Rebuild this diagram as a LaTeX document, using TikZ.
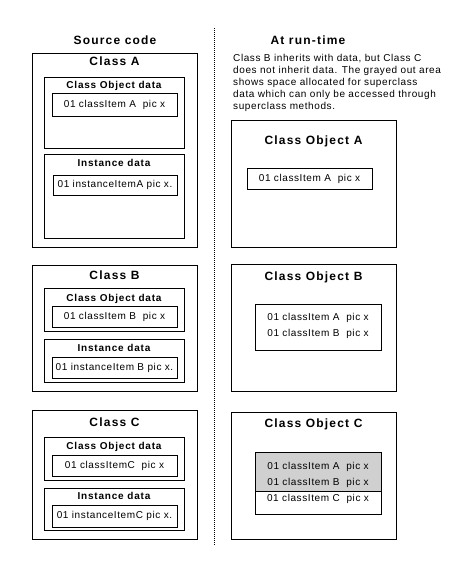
\documentclass[tikz,border=0pt]{standalone}
\usepackage{fontspec}
\setmainfont{Liberation Sans}[LetterSpace=6]
\newfontfamily\headfont{Liberation Sans}[LetterSpace=10]
\newfontfamily\subfont{Liberation Sans}[LetterSpace=8]
\definecolor{grayout}{RGB}{208,208,208}
\newcommand\bx[7][]{\node[box,#1,minimum width={#5-#3},minimum height={#6-#4}] (#2) at (#3,#4) {#7};}
\begin{document}
\begin{tikzpicture}[x=1pt,y=-1pt,
  box/.style={draw, line width=1pt, inner sep=0pt, outer sep=0pt, anchor=north west, fill=white,
              font=\fontsize{10}{12}\selectfont},
  head/.style={font=\headfont\bfseries\fontsize{12}{14}\selectfont, inner sep=0pt, anchor=base},
  sub/.style={font=\subfont\bfseries\fontsize{10}{12}\selectfont, inner sep=0pt, anchor=base},
  txt/.style={font=\fontsize{10}{12}\selectfont, inner sep=0pt, anchor=base},
  para/.style={font=\fontsize{10}{12}\selectfont, inner sep=0pt, anchor=base west},
  divider/.style={line width=1pt, dash pattern=on 1pt off 1pt}]
\useasboundingbox (0,0) rectangle (475,565);

% headings
\node[head] (srchead) at (115,44.3) {Source code};
\node[head] (runhead) at (308,44.3) {At run-time};

% explanation
\node[para] (p1) at (233,61.5) {Class B inherits with data, but Class C};
\node[para] (p2) at (233,73.5) {does not inherit data. The grayed out area};
\node[para] (p3) at (233,85.5) {shows space allocated for superclass};
\node[para] (p4) at (233,97.5) {data which can only be accessed through};
\node[para] (p5) at (233,109.5) {superclass methods.};

% divider
\coordinate (dtop) at (214,28);
\coordinate (dbot) at (214,545);
\draw[divider] (dtop) -- (dbot);

% ---------- Class A ----------
\bx{classA}{32}{53}{197}{247}{}
\node[head] (classAt) at (114.5,65.3) {Class A};
\bx{codA}{44}{77}{184}{148}{}
\node[sub] (codAt) at (114,88.6) {Class Object data};
\bx{itemA}{52}{93}{177}{116}{01 classItem A\ \ pic x}
\bx{instA}{44}{154}{184}{238}{}
\node[sub] (instAt) at (114,166.6) {Instance data};
\bx{iitemA}{53}{175}{177}{195}{01 instanceItemA pic x.}

% ---------- Class B ----------
\bx{classB}{32}{265}{197}{391}{}
\node[head] (classBt) at (114.5,279.3) {Class B};
\bx{codB}{44}{288}{184}{331}{}
\node[sub] (codBt) at (114,301.6) {Class Object data};
\bx{itemB}{52}{306}{177}{327}{01 classItem B\ \ pic x}
\bx{instB}{44}{339}{184}{382}{}
\node[sub] (instBt) at (114,351.6) {Instance data};
\bx{iitemB}{52}{357}{177}{378}{01 instanceItem B pic x.}

% ---------- Class C ----------
\bx{classC}{32}{410}{197}{539}{}
\node[head] (classCt) at (114.5,426.3) {Class C};
\bx{codC}{44}{437}{184}{480}{}
\node[sub] (codCt) at (114,449.6) {Class Object data};
\bx{itemC}{52}{455}{177}{476}{01 classItemC\ \ pic x}
\bx{instC}{44}{488}{184}{530}{}
\node[sub] (instCt) at (114,499.6) {Instance data};
\bx{iitemC}{52}{505}{177}{527}{01 instanceItemC pic x.}

% ---------- Class Object A ----------
\bx{objA}{231}{120}{396}{247}{}
\node[head] (objAt) at (313.5,144.3) {Class Object A};
\bx{oitemA}{247}{168}{372}{189}{01 classItem A\ \ pic x}

% ---------- Class Object B ----------
\bx{objB}{231}{264}{396}{391}{}
\node[head] (objBt) at (313.5,280.3) {Class Object B};
\bx{oitemB}{255}{304}{381}{350}{}
\node[txt] (oB1) at (318,320.6) {01 classItem A\ \ pic x};
\node[txt] (oB2) at (318,336.6) {01 classItem B\ \ pic x};

% ---------- Class Object C ----------
\bx{objC}{231}{412}{396}{539}{}
\node[head] (objCt) at (313.5,427.3) {Class Object C};
\bx{oitemC}{255}{452}{381}{514}{}
\bx[fill=grayout]{grayC}{255}{452}{381}{491}{}
\node[txt] (oC1) at (318,469.6) {01 classItem A\ \ pic x};
\node[txt] (oC2) at (318,485.6) {01 classItem B\ \ pic x};
\node[txt] (oC3) at (318,501.6) {01 classItem C\ \ pic x};
\end{tikzpicture}
\end{document}
